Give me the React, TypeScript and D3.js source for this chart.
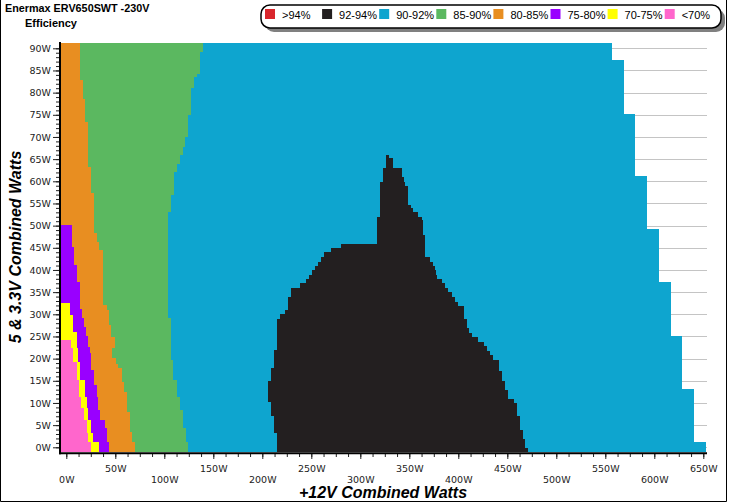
import * as d3 from 'd3'
import { useEffect, useRef } from 'react'

// [5V+3.3V watts where the step starts, +12V watts of the edge]
type Step = [number, number]

const BOTTOM_5V = -1.13
const TOP_5V = 91.3
const LEFT_12V = -5.4

const legendLabels = ['>94%', '92-94%', '90-92%', '85-90%', '80-85%', '75-80%', '70-75%', '<70%']
const legendColors = ['#d9262c', '#231f20', '#0ea5cf', '#5bb860', '#e88e21', '#9900ff', '#ffff00', '#ff66cc']

const yTicks = [0, 5, 10, 15, 20, 25, 30, 35, 40, 45, 50, 55, 60, 65, 70, 75, 80, 85, 90]
const xTicks = [0, 50, 100, 150, 200, 250, 300, 350, 400, 450, 500, 550, 600, 650]

// right edge of the 90-92% area
const blueEdge: Step[] = [[-1.13, 652.7], [1.1, 640], [13.1, 628.3], [25.1, 616.7], [37.2, 604.8], [49.2, 592.2], [61.2, 580.3], [75.2, 569], [87.3, 556.5]]
const blueTop = 91.3

// right edge of 85-90%
const greenEdge: Step[] = [[-1.13, 124.5], [1.3, 121.8], [4.3, 118.8], [8.4, 116], [11.4, 112.6], [15.2, 109.2], [19.7, 106.8], [29.1, 103.5], [53.1, 106.5], [56.9, 109.9], [62.2, 113.3], [64, 116], [65.9, 118.8], [67.8, 121.1], [70, 123.9], [75, 127.2], [81, 130.6], [83.6, 133], [84.3, 136.4], [89.2, 139.8]]
const greenTop = 91.3

// right edge of 80-85%
const orangeEdge: Step[] = [[-1.13, 70.1], [1.3, 67.3], [3.5, 65], [8.0, 61.6], [12.5, 59.2], [14.8, 56.5], [17.8, 53.1], [18.9, 50.4], [20.1, 46.9], [22.3, 49.7], [24.9, 45.6], [27.6, 43.6], [31.0, 41.2], [32.1, 37.5], [44.6, 33.7], [46.4, 31], [48.4, 28.3], [57.3, 24.9], [63.3, 21.8], [73.4, 19.1], [78.5, 16.7], [82.8, 14]]
const orangeTop = 91.3

// right edge of 75-80%
const purpleEdge: Step[] = [[-1.13, 43.6], [1.3, 41.2], [4.3, 39.5], [6.2, 34.4], [8.4, 32.7], [11.4, 31], [14.1, 28.6], [17.4, 25.2], [21.2, 24.2], [22.7, 21.8], [25.2, 19.8], [27.2, 18.4], [29.1, 16.3], [31.3, 14], [37.3, 10.6], [41.1, 8.2], [45.2, 5.5]]
const purpleTop = 50.1

// right edge of 70-75%
const yellowEdge: Step[] = [[-1.13, 33.7], [1.3, 27.6], [3.2, 25.2], [6.2, 22.4], [8.9, 20.8], [11.4, 19.1], [15.2, 14], [19.3, 12.2], [22.5, 10.6], [26.1, 7.1], [29.8, 3.8]]
const yellowTop = 32.5

// right edge of <70%
const pinkEdge: Step[] = [[-1.13, 24.9], [1.3, 22.4], [3.2, 20.8], [6.2, 18.4], [8.9, 15], [11.4, 13], [15.2, 10.6], [19.3, 7.1], [22.5, 4.8]]
const pinkTop = 24.2

// 92-94% island: left and right edges
const blackLeft: Step[] = [[-1.13, 215], [3.2, 212.2], [7.1, 208.9], [10.3, 206.1], [15.0, 208.9], [17.8, 212.2], [21.9, 215], [28.9, 218.4], [30.1, 223.2], [31.0, 226.6], [34.0, 229.3], [35.9, 238.5], [37.0, 244.6], [37.9, 248], [38.9, 250.4], [39.9, 253.8], [40.9, 257.1], [41.9, 259.9], [43.0, 263], [44.1, 270.1], [44.9, 280.3], [45.9, 317.3], [52.0, 320.1], [59.9, 323.5], [62.9, 326.2]]
const blackRight: Step[] = [[-1.13, 470.8], [-0.2, 468.1], [1.8, 466], [3.9, 463], [7.1, 459.9], [9.9, 456.5], [10.9, 450.4], [12.9, 447.7], [15.0, 444.6], [17.1, 441.5], [19.8, 435.4], [20.8, 432.3], [21.8, 429.6], [22.8, 425.9], [23.8, 419.8], [24.9, 414.3], [25.8, 411.2], [26.8, 409.2], [28.9, 405.8], [31.9, 399.4], [32.8, 396.6], [34.0, 393.3], [35.1, 389.8], [35.9, 386.4], [37.0, 383.1], [37.9, 378.6], [38.9, 377.2], [39.9, 376.2], [40.9, 373.9], [41.9, 371.1], [43.0, 366], [47.9, 363.7], [51.3, 362.6], [52.0, 359.2], [53.1, 354.1], [53.9, 351.4], [54.6, 348.4], [58.9, 345.6], [59.9, 344.6], [61.0, 342.2], [62.9, 333], [65.2, 329.6]]
const blackTop = 65.9

function edgePoints(steps: Step[], top: number) {
    const pts: [number, number][] = []
    steps.forEach(([v, w], i) => {
        const vNext = i < steps.length - 1 ? steps[i + 1][0] : top
        pts.push([w, v], [w, vNext])
    })
    return pts
}

function bandPoints(steps: Step[], top: number) {
    return [[LEFT_12V, steps[0][0]], ...edgePoints(steps, top), [LEFT_12V, top]] as [number, number][]
}

const Chart = () => {
    const svgRef = useRef<SVGSVGElement>(null)

    useEffect(() => {
        const svg = d3.select(svgRef.current)
        svg.select('.plot').remove()
        const g = svg.append('g').attr('class', 'plot')

        const x = d3.scaleLinear().domain([0, 650]).range([66.3, 703.3])
        const y = d3.scaleLinear().domain([0, 90]).range([447.3, 48.3])

        // grid
        g.selectAll('.grid')
            .data(yTicks)
            .join('line')
            .attr('x1', 61).attr('x2', 707)
            .attr('y1', d => Math.round(y(d)) + 0.5).attr('y2', d => Math.round(y(d)) + 0.5)
            .attr('stroke', '#c4c4c4')

        const line = d3.line<[number, number]>().x(d => x(d[0])).y(d => y(d[1]))

        const bands = [
            { pts: bandPoints(blueEdge, blueTop), color: legendColors[2] },
            { pts: bandPoints(greenEdge, greenTop), color: legendColors[3] },
            { pts: bandPoints(orangeEdge, orangeTop), color: legendColors[4] },
            { pts: bandPoints(purpleEdge, purpleTop), color: legendColors[5] },
            { pts: bandPoints(yellowEdge, yellowTop), color: legendColors[6] },
            { pts: bandPoints(pinkEdge, pinkTop), color: legendColors[7] },
            { pts: [...edgePoints(blackLeft, blackTop), ...edgePoints(blackRight, blackTop).reverse()], color: legendColors[1] },
        ]

        g.selectAll('.band')
            .data(bands)
            .join('path')
            .attr('d', d => line(d.pts) + 'Z')
            .attr('fill', d => d.color)
            .attr('shape-rendering', 'crispEdges')

        // y axis
        const yMinor = g.append('g').attr('transform', 'translate(59,0)')
            .call(d3.axisLeft(y).tickValues(d3.range(0, 91, 1)).tickSize(3).tickFormat(() => ''))
        yMinor.select('.domain').remove()

        const yMajor = g.append('g').attr('transform', 'translate(59,0)')
            .call(d3.axisLeft(y).tickValues(yTicks).tickSize(6).tickPadding(2).tickFormat(d => d + 'W'))
        yMajor.select('.domain').remove()

        // x axis
        const xMinor = g.append('g').attr('transform', 'translate(0,454)')
            .call(d3.axisBottom(x).tickValues(d3.range(0, 651, 12.5)).tickSize(3).tickFormat(() => ''))
        xMinor.select('.domain').remove()

        const xMajor = g.append('g').attr('transform', 'translate(0,454)')
            .call(d3.axisBottom(x).tickValues(xTicks).tickSize(5).tickFormat(d => d + 'W'))
        xMajor.select('.domain').remove()
        xMajor.selectAll<SVGTextElement, number>('text')
            .attr('y', d => (d % 100 === 0 ? 22 : 11))

        g.selectAll('.tick line').attr('stroke', '#222')
        g.selectAll('.tick text')
            .attr('fill', '#222')
            .style('font-family', '"DejaVu Sans", Verdana, sans-serif')
            .style('font-size', '9.5px')

        g.append('line').attr('x1', 60).attr('x2', 60).attr('y1', 42).attr('y2', 454.3)
            .attr('stroke', '#000').attr('stroke-width', 2)
        g.append('line').attr('x1', 59).attr('x2', 707).attr('y1', 453.3).attr('y2', 453.3)
            .attr('stroke', '#000').attr('stroke-width', 2)
    }, [])

    return (
        <svg ref={svgRef} width={729} height={504}
            style={{ position: 'absolute', left: 0, top: 0, background: '#fff' }}>
            <rect x={0} y={0} width={729} height={504} fill="#fff" />
            <path d="M0.5,0 V501.5 H726.5 V0" fill="none" stroke="#000" />

            <g fontFamily='"Liberation Sans", Arial, sans-serif' fontWeight="bold" fill="#000">
                <text x={5} y={12} fontSize={10.8}>Enermax ERV650SWT -230V</text>
                <text x={25} y={27} fontSize={11}>Efficiency</text>
            </g>

            <g fontFamily='"Liberation Sans", Arial, sans-serif'>
                <rect x={265} y={9} width={460} height={23} rx={9} fill="#808080" />
                <rect x={261} y={5} width={460} height={23} rx={9} fill="#fff" stroke="#000" strokeWidth={1.5} />
                {legendLabels.map((lab, i) => (
                    <g key={lab} transform={`translate(${265 + i * 57.1},0)`}>
                        <rect x={0} y={9} width={10} height={10} fill={legendColors[i]} />
                        <text x={17} y={18.5} fontSize={11} fill="#000">{lab}</text>
                    </g>
                ))}
            </g>

            <g fontFamily='"Liberation Sans", Arial, sans-serif' fontWeight="bold" fontStyle="italic" fontSize={16} fill="#000">
                <text x={383} y={498} textAnchor="middle">+12V Combined Watts</text>
                <text transform="translate(21,247) rotate(-90)" textAnchor="middle">5 &amp; 3.3V Combined Watts</text>
            </g>
        </svg>
    )
}

export default function App() {
    return <Chart />
}
